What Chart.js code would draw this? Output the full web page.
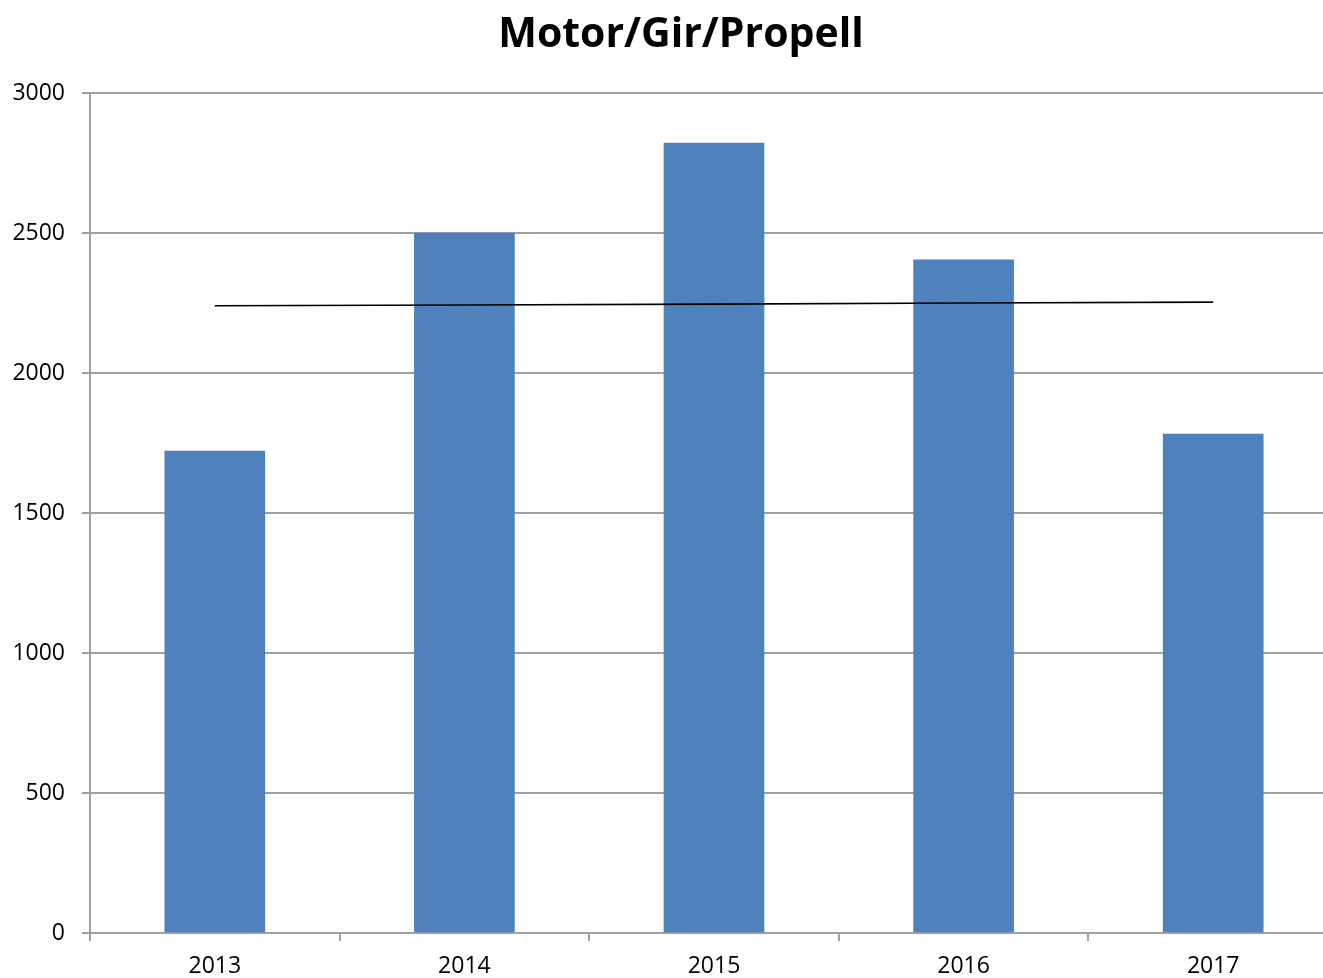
<!DOCTYPE html>
<html>
<head>
<meta charset="utf-8">
<script src="https://cdn.jsdelivr.net/npm/chart.js@4/dist/chart.umd.min.js"></script>
<style>
  html, body { margin: 0; padding: 0; background: #fff; overflow: hidden; width: 1323px; height: 978px; }
  #wrap { width: 1323px; height: 978px; overflow: hidden; position: relative; }
  canvas { display: block; }
</style>
</head>
<body>
<div id="wrap"><canvas id="c" width="1340" height="978"></canvas></div>
<script>
const titleText = 'Motor/Gir/Propell';
const categories = ['2013', '2014', '2015', '2016', '2017'];
const barValues = [1721, 2500, 2821, 2404, 1782];
const trendValues = [2240, 2243, 2246, 2250, 2253];
const yTicks = [0, 500, 1000, 1500, 2000, 2500, 3000];

const FONT = '"Open Sans", "Noto Sans", sans-serif';
const GRID = '#a0a0a0';

const titlePlugin = {
  id: 'offsetTitle',
  afterDraw(chart) {
    const ctx = chart.ctx;
    ctx.save();
    ctx.font = 'bold 41px ' + FONT;
    ctx.fillStyle = '#000';
    ctx.textAlign = 'center';
    ctx.textBaseline = 'middle';
    ctx.fillText(titleText, 681, 35);
    ctx.restore();
  }
};

new Chart(document.getElementById('c'), {
  data: {
    labels: categories,
    datasets: [
      {
        type: 'line',
        label: 'Linear',
        data: trendValues,
        borderColor: '#000000',
        borderWidth: 1.6,
        pointRadius: 0,
        fill: false,
        tension: 0,
        order: 0
      },
      {
        type: 'bar',
        label: 'Serie',
        data: barValues,
        backgroundColor: '#4f81bd',
        borderWidth: 0,
        barThickness: 100,
        order: 1
      }
    ]
  },
  plugins: [titlePlugin],
  options: {
    responsive: false,
    animation: false,
    events: [],
    layout: { padding: { left: 0, right: 2, top: 93, bottom: 0 } },
    plugins: {
      legend: { display: false },
      tooltip: { enabled: false },
      title: { display: false }
    },
    scales: {
      x: {
        offset: true,
        grid: {
          display: true,
          offset: true,
          drawOnChartArea: false,
          drawTicks: true,
          tickLength: 8,
          color: GRID,
          lineWidth: 2
        },
        border: { display: true, color: GRID, width: 2 },
        ticks: {
          color: '#000',
          font: { family: FONT, size: 23 },
          padding: 12,
          maxRotation: 0
        },
        afterFit: (s) => { s.height = 45; }
      },
      y: {
        min: 0,
        max: 3000,
        afterBuildTicks: (s) => { s.ticks = yTicks.map(v => ({ value: v })); },
        grid: {
          color: GRID,
          lineWidth: 2,
          tickLength: 8,
          drawTicks: true
        },
        border: { display: true, color: GRID, width: 2 },
        ticks: {
          color: '#000',
          font: { family: FONT, size: 23 },
          padding: 17,
          callback: (v) => String(v)
        },
        afterFit: (s) => { s.width = 90; }
      }
    }
  }
});
</script>
</body>
</html>
